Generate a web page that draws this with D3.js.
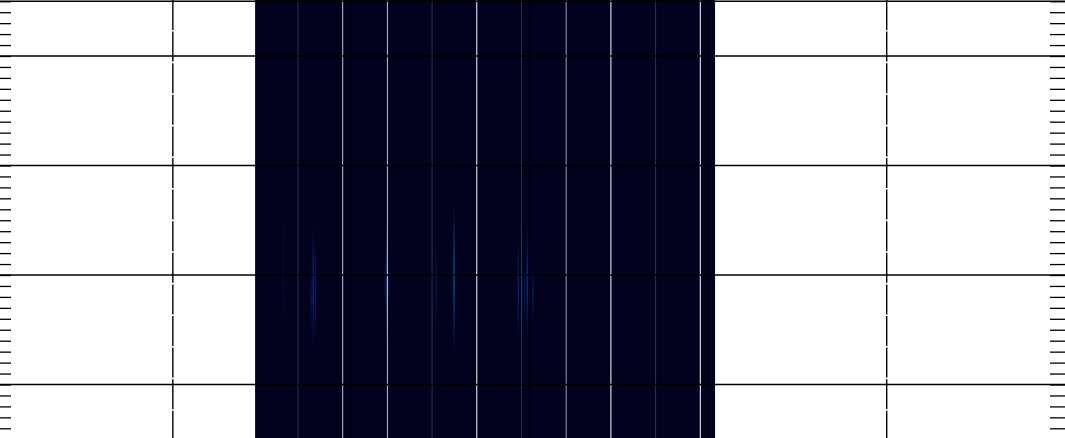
<!DOCTYPE html>
<html>
<head>
<meta charset="utf-8">
<script src="https://cdn.jsdelivr.net/npm/d3@7"></script>
<style>
  html, body { margin: 0; padding: 0; background: #ffffff; }
  svg { display: block; }
</style>
</head>
<body>
<svg id="chart" width="1065" height="438"></svg>
<script>
// ---------------- data ----------------
// x in "frame" units (column separators fall on whole frames), y in "bin" units
const heatExtent = [0.04, 10.33];            // x-range covered by the spectrogram image
const majorY = [-0.5, 0, 1, 2, 3];            // horizontal grid lines
const minorY = d3.range(-5, 36).map(d => d / 10); // minor tick marks every 0.1
const dashedX = [-1.8, 14.17];                // vertical dashed guide lines
const separatorX = [1, 2, 3, 4, 5, 6, 7, 8, 9, 10];
const separatorTone = [0.14, 0.75, 0.75, 0.14, 1, 0.14, 0.58, 1, 0.14, 1];
const darkSeparatorX = [2.19, 6.19, 10.19];
// streaks: [x, yTop, yBottom, peak intensity 0..1]
const streakX    = [0.67, 1.34, 1.39, 1.29, 2.99, 2.95, 3.04, 4.49, 4.09, 5.93, 6.00, 6.13, 6.19, 6.26, 6.07];
const streakTop  = [1.40, 1.54, 1.68, 1.91, 1.56, 1.73, 1.85, 1.36, 1.72, 1.68, 1.59, 1.55, 1.60, 1.95, 1.85];
const streakBot  = [2.50, 2.69, 2.60, 2.50, 2.59, 2.41, 2.35, 2.71, 2.50, 2.57, 2.64, 2.59, 2.50, 2.41, 2.45];
const streakPeak = [0.10, 0.45, 0.32, 0.22, 0.55, 0.22, 0.18, 0.72, 0.28, 0.40, 0.42, 0.50, 0.38, 0.32, 0.22];

// ---------------- scales ----------------
const W = 1065, H = 438;
const x = d3.scaleLinear().domain([1, 10]).range([298.0, 700.3]);
const y = d3.scaleLinear().domain([0, 3]).range([56.0, 384.5]);
const color = d3.scaleLinear().domain([0, 0.5, 1])
  .range(["#02021e", "#0b2a84", "#17809e"]).clamp(true);
const sepColor = d3.scaleLinear().domain([0, 1]).range(["#10102a", "#ffffff"]);

const svg = d3.select("#chart");
const defs = svg.append("defs");

// ---------------- heatmap ----------------
const g = svg.append("g");
g.append("rect")
  .attr("x", x(heatExtent[0]))
  .attr("y", 0)
  .attr("width", x(heatExtent[1]) - x(heatExtent[0]))
  .attr("height", H)
  .attr("fill", color(0));

const streaks = streakX.map((sx, i) => ({x: sx, t: streakTop[i], b: streakBot[i], p: streakPeak[i], i}));
streaks.forEach(s => {
  const grad = defs.append("linearGradient")
    .attr("id", "sg" + s.i).attr("x1", 0).attr("x2", 0).attr("y1", 0).attr("y2", 1);
  const c = color(s.p);
  grad.append("stop").attr("offset", "0%").attr("stop-color", c).attr("stop-opacity", 0);
  grad.append("stop").attr("offset", "35%").attr("stop-color", c).attr("stop-opacity", 0.85);
  grad.append("stop").attr("offset", "55%").attr("stop-color", c).attr("stop-opacity", 1);
  grad.append("stop").attr("offset", "100%").attr("stop-color", c).attr("stop-opacity", 0);
});
g.selectAll("rect.streak").data(streaks).join("rect")
  .attr("class", "streak")
  .attr("x", d => x(d.x) - 0.6)
  .attr("width", 1.3)
  .attr("y", d => y(d.t))
  .attr("height", d => y(d.b) - y(d.t))
  .attr("fill", d => `url(#sg${d.i})`);

// separators inside the heatmap
g.selectAll("line.dsep").data(darkSeparatorX).join("line")
  .attr("class", "dsep")
  .attr("x1", d => x(d)).attr("x2", d => x(d))
  .attr("y1", 0).attr("y2", H)
  .attr("stroke", "#00000c").attr("stroke-width", 1.5);
g.selectAll("line.sep").data(separatorX).join("line")
  .attr("class", "sep")
  .attr("x1", d => x(d)).attr("x2", d => x(d))
  .attr("y1", 0).attr("y2", H)
  .attr("stroke", (d, i) => sepColor(separatorTone[i]))
  .attr("stroke-width", 1);

// ---------------- grid ----------------
svg.append("g").selectAll("line").data(majorY).join("line")
  .attr("x1", 0).attr("x2", W)
  .attr("y1", d => y(d)).attr("y2", d => y(d))
  .attr("stroke", "#000").attr("stroke-width", 1.3);

svg.append("g").selectAll("line").data(dashedX).join("line")
  .attr("x1", d => x(d)).attr("x2", d => x(d))
  .attr("y1", 0).attr("y2", H)
  .attr("stroke", "#000").attr("stroke-width", 1.4)
  .attr("stroke-dasharray", "30,1.6");

// ---------------- minor ticks (left & right) ----------------
const leftAxis = d3.axisRight(y).tickValues(minorY).tickSize(11).tickFormat("");
const rightAxis = d3.axisLeft(y).tickValues(minorY).tickSize(15).tickFormat("");
const la = svg.append("g").attr("transform", "translate(0,0)").call(leftAxis);
const ra = svg.append("g").attr("transform", `translate(${W},0)`).call(rightAxis);
[la, ra].forEach(a => {
  a.select(".domain").remove();
  a.selectAll(".tick line").attr("stroke", "#000").attr("stroke-width", 1.3);
});
</script>
</body>
</html>
